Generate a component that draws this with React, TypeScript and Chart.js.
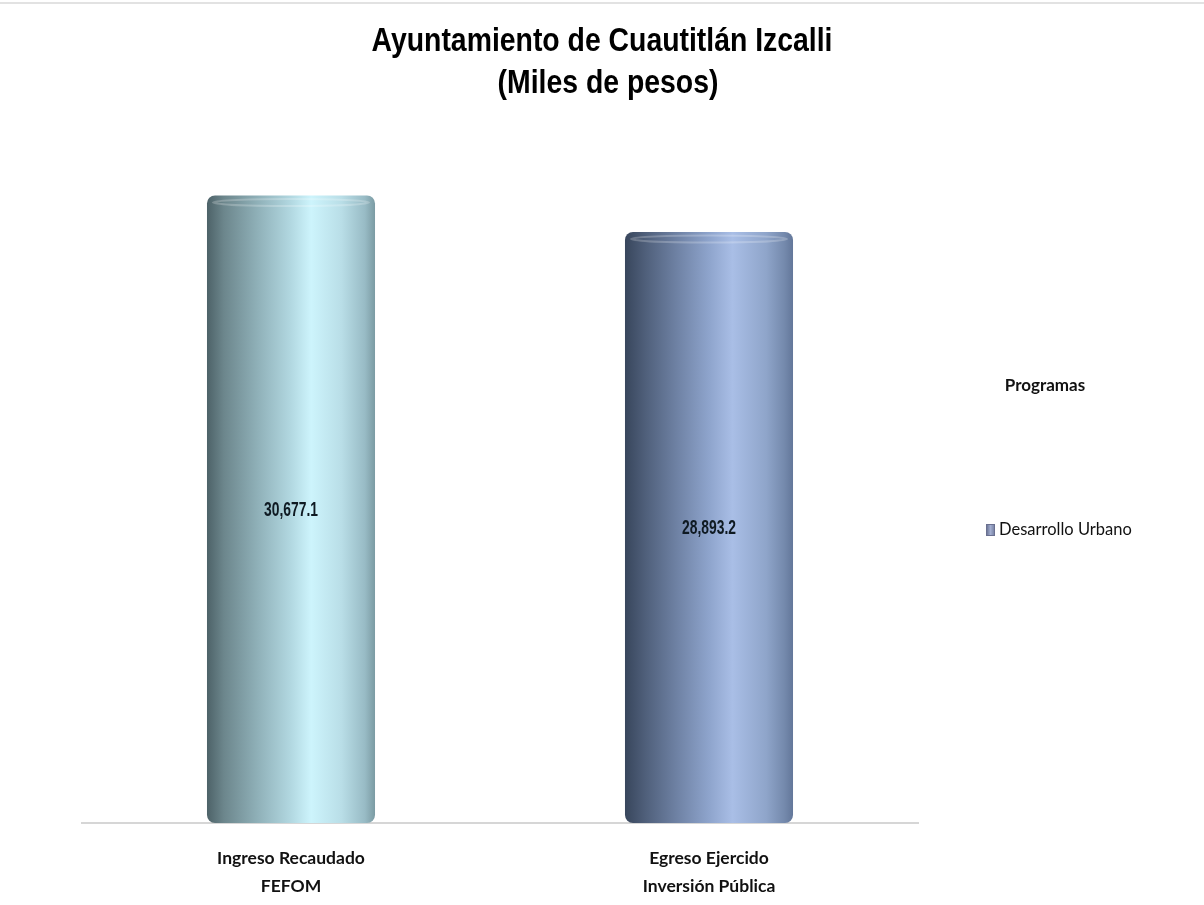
import React, { useEffect, useRef } from "react";
import { Chart, registerables } from "chart.js";

Chart.register(...registerables);

const categories: string[][] = [
  ["Ingreso Recaudado", "FEFOM"],
  ["Egreso Ejercido", "Inversión Pública"],
];
const seriesName = "Desarrollo Urbano";
const values: number[] = [30677.1, 28893.2];
const legendTitle = "Programas";
const titleLines: string[] = ["Ayuntamiento de Cuautitlán Izcalli", "(Miles de pesos)"];

const ARIAL = "'Liberation Sans', Arial, sans-serif";
const CALIBRI = "Lato, 'Open Sans', sans-serif";
const BAR_PCT = 0.402;

const gradientStops: [number, string][][] = [
  [
    [0, "#4d6268"],
    [0.1, "#6c868c"],
    [0.3, "#8fb0b8"],
    [0.5, "#b2d8e1"],
    [0.62, "#cdf4fc"],
    [0.8, "#b9dee7"],
    [0.94, "#98bbc5"],
    [1, "#7b9ba3"],
  ],
  [
    [0, "#38465c"],
    [0.12, "#4f5f7a"],
    [0.3, "#6d80a2"],
    [0.5, "#8ea4cc"],
    [0.64, "#a9bee6"],
    [0.84, "#8fa5ca"],
    [0.95, "#7489ac"],
    [1, "#63779a"],
  ],
];

const fmt = (v: number) =>
  v.toLocaleString("en-US", { minimumFractionDigits: 1, maximumFractionDigits: 1 });

// draw horizontally condensed text (emulates a narrow typeface)
function condensedText(ctx: CanvasRenderingContext2D, text: string, x: number, y: number, sx: number) {
  ctx.save();
  ctx.translate(x, y);
  ctx.scale(sx, 1);
  ctx.fillText(text, 0, 0);
  ctx.restore();
}

const decorPlugin = {
  id: "decor",
  afterDatasetsDraw(chart: any) {
    const ctx = chart.ctx;
    const meta = chart.getDatasetMeta(0);
    meta.data.forEach((el: any, i: number) => {
      const { x, y, base, width } = el.getProps(["x", "y", "base", "width"], true);
      // top face highlight of the cylinder
      ctx.save();
      ctx.beginPath();
      ctx.ellipse(x, y + 7, width / 2 - 6, 3.5, 0, 0, Math.PI * 2);
      ctx.strokeStyle = "rgba(255,255,255,0.22)";
      ctx.lineWidth = 2;
      ctx.stroke();
      ctx.restore();
      // value label
      ctx.save();
      ctx.font = `bold 21px ${ARIAL}`;
      ctx.fillStyle = "#0f1a22";
      ctx.textAlign = "center";
      ctx.textBaseline = "middle";
      condensedText(ctx, fmt(values[i]), x, (y + base) / 2 + 1, 0.66);
      ctx.restore();
    });
  },
  afterDraw(chart: any) {
    const ctx = chart.ctx;
    ctx.save();
    // faint frame line at the top of the picture
    ctx.strokeStyle = "#e2e2e2";
    ctx.lineWidth = 2;
    ctx.beginPath();
    ctx.moveTo(0, 3);
    ctx.lineTo(1204, 3);
    ctx.stroke();
    // title
    ctx.fillStyle = "#000";
    ctx.textAlign = "center";
    ctx.textBaseline = "alphabetic";
    ctx.font = `bold 33px ${ARIAL}`;
    condensedText(ctx, titleLines[0], 602, 51, 0.86);
    condensedText(ctx, titleLines[1], 608, 93, 0.86);
    // legend
    ctx.fillStyle = "#111";
    ctx.textBaseline = "middle";
    ctx.font = `bold 17px ${CALIBRI}`;
    ctx.fillText(legendTitle, 1045, 386);
    const g = ctx.createLinearGradient(986, 0, 995, 0);
    g.addColorStop(0, "#5d6788");
    g.addColorStop(0.5, "#a3aed0");
    g.addColorStop(1, "#6f7a9c");
    ctx.fillStyle = g;
    ctx.fillRect(986, 524, 9, 12);
    ctx.strokeStyle = "#6a7090";
    ctx.lineWidth = 1;
    ctx.strokeRect(986.5, 524.5, 8, 11);
    ctx.fillStyle = "#111";
    ctx.textAlign = "left";
    ctx.font = `16.5px ${CALIBRI}`;
    ctx.fillText(seriesName, 999, 530);
    ctx.restore();
  },
};

export default function App() {
  const ref = useRef<HTMLCanvasElement>(null);

  useEffect(() => {
    if (!ref.current) return;
    const chart = new Chart(ref.current, {
      type: "bar",
      data: {
        labels: categories,
        datasets: [
          {
            label: seriesName,
            data: values,
            backgroundColor: (c: any) => {
              const ch = c.chart;
              if (!ch.chartArea || c.dataIndex === undefined) return "#8ea4cc";
              const xs = ch.scales.x;
              const cx = xs.getPixelForValue(c.dataIndex);
              const w = (xs.width / categories.length) * BAR_PCT;
              const g = ch.ctx.createLinearGradient(cx - w / 2, 0, cx + w / 2, 0);
              gradientStops[c.dataIndex % gradientStops.length].forEach(([o, col]) =>
                g.addColorStop(o, col)
              );
              return g;
            },
            borderWidth: 0,
            borderRadius: 8,
            borderSkipped: false,
            barPercentage: BAR_PCT,
            categoryPercentage: 1,
          },
        ],
      },
      options: {
        responsive: false,
        animation: false,
        layout: { padding: { left: 82, right: 286, top: 107, bottom: 5 } },
        plugins: {
          legend: { display: false },
          tooltip: { enabled: false },
          title: { display: false },
        },
        scales: {
          x: {
            grid: {
              display: true,
              drawOnChartArea: false,
              drawTicks: true,
              tickLength: 21,
              color: "rgba(0,0,0,0)",
            },
            border: { display: true, color: "#d6d6d6", width: 2 },
            ticks: {
              padding: 0,
              color: "#111",
              maxRotation: 0,
              autoSkip: false,
              font: { family: CALIBRI, size: 17.5, weight: "bold", lineHeight: 1.6 },
            },
          },
          y: {
            display: false,
            min: 0,
            max: 35000,
          },
        },
      },
      plugins: [decorPlugin],
    });
    return () => chart.destroy();
  }, []);

  return (
    <div
      style={{
        position: "absolute",
        left: 0,
        top: 0,
        width: 1204,
        height: 905,
        background: "#fff",
      }}
    >
      <canvas ref={ref} width={1204} height={905} style={{ display: "block" }} />
    </div>
  );
}
